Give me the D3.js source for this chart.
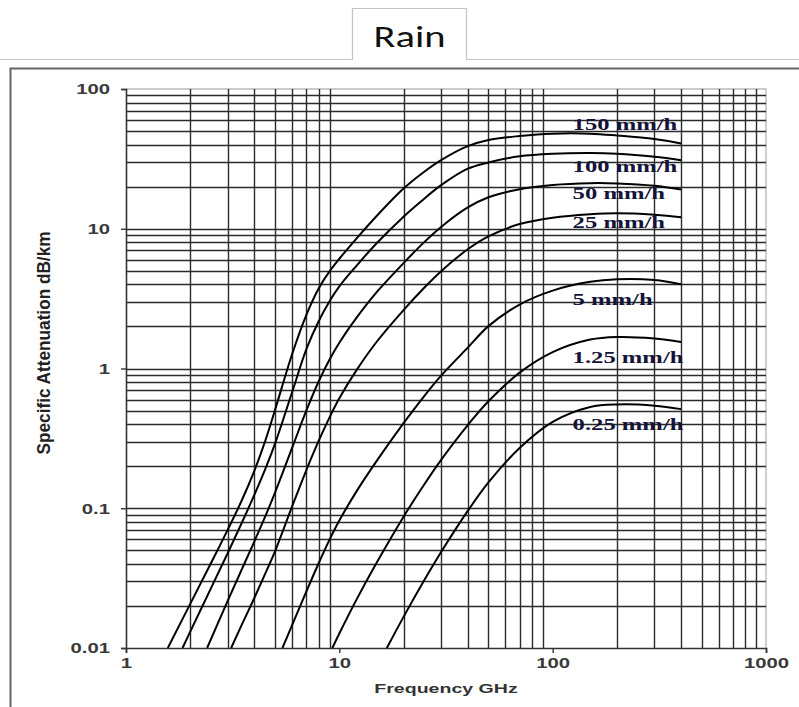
<!DOCTYPE html>
<html><head><meta charset="utf-8">
<script src="https://cdn.jsdelivr.net/npm/d3@7/dist/d3.min.js"></script>
<style>html,body{margin:0;padding:0;background:#fff;} svg{display:block;}</style>
</head><body>
<svg id="chart" width="799" height="707"></svg>
<script>
// ---------------- data ----------------
const chartTitle = "Rain";
const xAxisTitle = "Frequency GHz";
const yAxisTitle = "Specific Attenuation dB/km";
const seriesLabels = ["150 mm/h","100 mm/h","50 mm/h","25 mm/h","5 mm/h","1.25 mm/h","0.25 mm/h"];

const freq150 = [1.57,2,2.5,3,3.5,4,4.5,5,6,7,8,9,10,12,15,20,25,30,40,50,70,100,150,200,300,400];
const att150  = [0.01,0.0207,0.0404,0.0703,0.115,0.186,0.305,0.507,1.26,2.41,3.74,4.96,6.1,8.47,12.4,19.4,25.6,31.0,39.0,43.2,46.1,47.9,47.9,46.5,43.9,40.8];

const freq100 = [1.84,2,2.5,3,3.5,4,4.5,5,6,7,8,9,10,12,15,20,25,30,40,50,70,100,150,200,300,400];
const att100  = [0.01,0.0131,0.0267,0.0478,0.0794,0.125,0.191,0.291,0.673,1.37,2.18,3.03,3.87,5.41,7.9,12.2,16.4,20.5,26.9,29.8,33.0,34.4,34.8,34.4,32.7,30.9];

const freq50 = [2.4,3,3.5,4,4.5,5,6,7,8,9,10,12,15,20,25,30,40,50,70,100,150,200,300,400];
const att50  = [0.01,0.0218,0.0369,0.058,0.0877,0.130,0.269,0.499,0.807,1.16,1.53,2.29,3.53,5.68,8.02,10.3,14.2,16.8,19.2,20.6,21.2,21.1,20.3,19.1];

const freq25 = [3.11,3.5,4,4.5,5,6,7,8,9,10,12,15,20,25,30,40,50,70,100,150,200,300,400];
const att25  = [0.01,0.0148,0.0229,0.0342,0.0494,0.1026,0.187,0.303,0.447,0.612,0.966,1.56,2.62,3.78,4.97,7.13,8.81,10.8,12.0,12.7,12.9,12.6,12.1];

const freq5 = [5.41,6,7,8,9,10,12,15,20,25,30,40,50,70,100,150,200,300,400];
const att5  = [0.01,0.0145,0.0253,0.0404,0.0596,0.0817,0.131,0.219,0.406,0.635,0.889,1.41,2.01,2.87,3.61,4.17,4.35,4.30,4.01];

const freq1_25 = [9.27,10,12,15,20,25,30,40,50,70,100,150,200,300,400];
const att1_25  = [0.01,0.0127,0.022,0.041,0.087,0.148,0.222,0.394,0.583,0.934,1.31,1.61,1.68,1.64,1.55];

const freq0_25 = [16.7,20,25,30,40,50,70,100,150,200,300,400];
const att0_25  = [0.01,0.0167,0.0305,0.0486,0.0957,0.153,0.270,0.415,0.530,0.553,0.542,0.512];

const xTickValues = [1,10,100,1000];
const xTickLabels = ["1","10","100","1000"];
const yTickValues = [0.01,0.1,1,10,100];
const yTickLabels = ["0.01","0.1","1","10","100"];

// ---------------- layout ----------------
const svg = d3.select("#chart");
const W = 799, H = 707;
const plot = {left:126, right:766, top:89, bottom:648};
const stretch = 1.45;            // the original figure is horizontally stretched
const labelBaselines = [130,172,199,228,305,363,430];

const x = d3.scaleLog().domain([1,1000]).range([plot.left, plot.right]);
const y = d3.scaleLog().domain([0.01,100]).range([plot.bottom, plot.top]);

svg.append("rect").attr("width",W).attr("height",H).attr("fill","#fff");

// title tab
svg.append("path")
  .attr("d","M0,59.5H352.5V8.5H466.5V59.5H799")
  .attr("fill","none").attr("stroke","#c4c4c4").attr("stroke-width",1.2);
svg.append("text").text(chartTitle)
  .attr("x",409.5).attr("y",46.5).attr("text-anchor","middle")
  .attr("font-family","Carlito, Lato, 'Open Sans', sans-serif")
  .attr("font-size",30).attr("fill","#111")
  .attr("textLength",72).attr("lengthAdjust","spacingAndGlyphs");

// outer frame
svg.append("path").attr("d","M10.5,707V68.5H799")
  .attr("fill","none").attr("stroke","#666").attr("stroke-width",2);

// grid
const xGrid = [];
[1,10,100].forEach(d => { for (let k=2;k<=9;k++) xGrid.push(k*d); });
const yGrid = [];
[0.01,0.1,1,10].forEach(d => { for (let k=1;k<=9;k++) if (!(d===0.01 && k===1)) yGrid.push(k*d); });

const g = svg.append("g");
g.append("path")
  .attr("d",`M${plot.left},${y(100)}H${x(1000)}V${plot.bottom}`)
  .attr("fill","none").attr("stroke","#bbb").attr("stroke-width",1.4);

g.append("g").selectAll("line").data(xGrid).join("line")
  .attr("x1",d=>Math.round(x(d))+0.5).attr("x2",d=>Math.round(x(d))+0.5)
  .attr("y1",y(100)).attr("y2",y(0.01))
  .attr("stroke","#2a2a2a").attr("stroke-width",1.4);
g.append("g").selectAll("line").data(yGrid).join("line")
  .attr("y1",d=>Math.round(y(d))+0.5).attr("y2",d=>Math.round(y(d))+0.5)
  .attr("x1",x(1)).attr("x2",x(1000))
  .attr("stroke","#2a2a2a").attr("stroke-width",1.4);

// axes
const tickFont = "'Liberation Sans', Arial, sans-serif";
const yAxis = d3.axisLeft(y).tickValues(yTickValues)
  .tickFormat((d,i)=>yTickLabels[i]).tickSize(5).tickPadding(0);
const yAx = svg.append("g").attr("transform",`translate(${plot.left},0)`).call(yAxis);
const xAxis = d3.axisBottom(x).tickValues(xTickValues)
  .tickFormat((d,i)=>xTickLabels[i]).tickSize(5).tickPadding(0);
const xAx = svg.append("g").attr("transform",`translate(0,${plot.bottom})`).call(xAxis);
[yAx,xAx].forEach(a=>{
  a.select(".domain").attr("stroke","#333").attr("stroke-width",1.6);
  a.selectAll(".tick line").attr("stroke","#333").attr("stroke-width",1.4);
  a.selectAll("text").attr("font-family",tickFont).attr("font-weight","bold")
    .attr("font-size",14).attr("fill","#3a3a3a");
});
yAx.selectAll(".tick text").attr("x",-16/stretch).attr("dy","0.35em")
  .attr("transform",`scale(${stretch},1)`);
xAx.selectAll(".tick text").attr("y",10).attr("dy","0.71em")
  .attr("transform",`scale(${stretch},1)`);

// axis titles
svg.append("text").text(xAxisTitle)
  .attr("transform",`translate(${(plot.left+plot.right)/2},693) scale(${stretch},1)`)
  .attr("text-anchor","middle").attr("font-family",tickFont).attr("font-weight","bold")
  .attr("font-size",13.5).attr("fill","#333");
svg.append("text").text(yAxisTitle)
  .attr("transform",`translate(50,343) scale(${stretch},1) rotate(-90)`)
  .attr("text-anchor","middle").attr("font-family",tickFont).attr("font-weight","bold")
  .attr("font-size",12.5).attr("fill","#222")
  .attr("textLength",223).attr("lengthAdjust","spacingAndGlyphs");

// curves
const series = [
  [freq150,att150],[freq100,att100],[freq50,att50],[freq25,att25],
  [freq5,att5],[freq1_25,att1_25],[freq0_25,att0_25]
];
const line = d3.line().x(d=>x(d[0])).y(d=>y(d[1])).curve(d3.curveCatmullRom.alpha(0.5));
svg.append("g").selectAll("path").data(series).join("path")
  .attr("d",s=>line(s[0].map((f,i)=>[f,s[1][i]])))
  .attr("fill","none").attr("stroke","#000").attr("stroke-width",2);

// curve labels
svg.append("g").selectAll("text").data(seriesLabels).join("text")
  .text(d=>d)
  .attr("transform",(d,i)=>`translate(${x(124)},${labelBaselines[i]}) scale(${stretch},1)`)
  .attr("font-family","'Liberation Serif', 'Times New Roman', serif")
  .attr("font-weight","bold").attr("font-size",17).attr("fill","#14143a");
</script>
</body></html>
